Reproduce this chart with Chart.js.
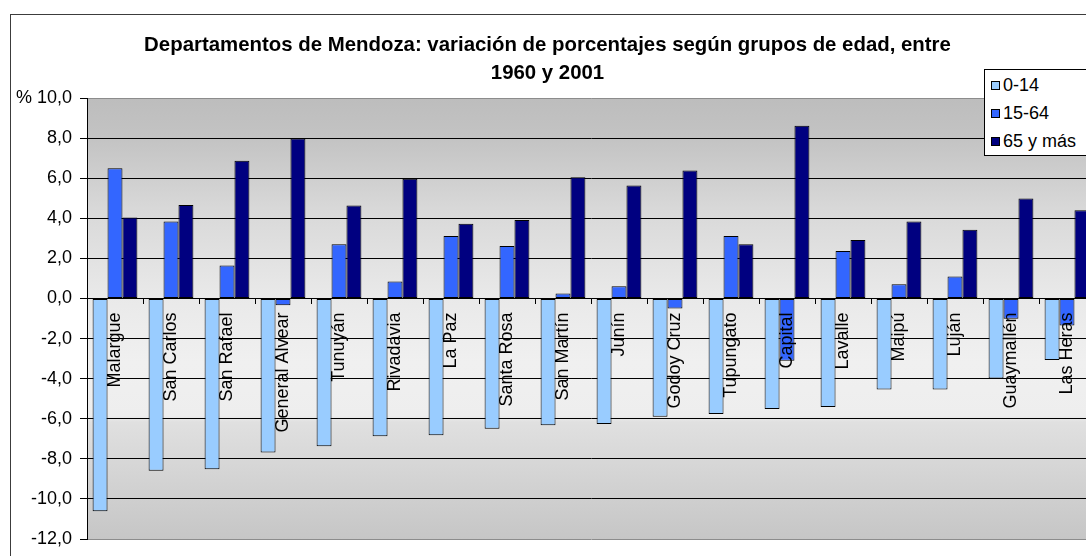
<!DOCTYPE html>
<html>
<head>
<meta charset="utf-8">
<title>Departamentos de Mendoza</title>
<script src="https://cdn.jsdelivr.net/npm/chart.js@4/dist/chart.umd.min.js"></script>
<style>
  html, body { margin: 0; padding: 0; overflow: hidden; background: #fff; }
  #wrap { position: relative; width: 1114px; height: 556px; }
  #frame { position: absolute; left: 10px; top: 14px; width: 1200px; height: 700px; border: 1px solid #3c3c3c; }
  #chart { position: absolute; left: 0; top: 0; }
  #legend {
    position: absolute; left: 984px; top: 69px; width: 130px; height: 84px;
    background: #fff; border: 1px solid #000; padding-top: 1px;
    font-family: 'Liberation Sans', Arial, sans-serif; font-size: 18px; color: #000;
  }
  #legend .item { height: 28px; line-height: 28px; white-space: nowrap; }
  #legend .box { display: inline-block; width: 7px; height: 7px; border: 1px solid #000; margin: 0 3px 0 6px; vertical-align: 1px; }
</style>
</head>
<body>
<div id="wrap">
  <div id="frame"></div>
  <canvas id="chart" width="1114" height="556"></canvas>
  <div id="legend"></div>
</div>
<script>
// valores (variación en puntos porcentuales)
const departamentos = ['Malargue', 'San Carlos', 'San Rafael', 'General Alvear', 'Tunuyán', 'Rivadavia',
  'La Paz', 'Santa Rosa', 'San Martín', 'Junín', 'Godoy Cruz', 'Tupungato', 'Capital', 'Lavalle',
  'Maipú', 'Luján', 'Guaymallén', 'Las Heras'];
const grupos = ['0-14', '15-64', '65 y más'];
const edad0a14 = [-10.62, -8.60, -8.52, -7.68, -7.37, -6.88, -6.82, -6.50, -6.33, -6.26, -5.90, -5.77, -5.51, -5.41, -4.54, -4.54, -3.99, -3.07];
const edad15a64 = [6.49, 3.84, 1.64, -0.34, 2.70, 0.84, 3.11, 2.62, 0.25, 0.61, -0.50, 3.11, -3.11, 2.37, 0.71, 1.10, -1.01, -1.35];
const edad65ymas = [4.04, 4.66, 6.87, 7.98, 4.64, 5.97, 3.73, 3.92, 6.05, 5.63, 6.38, 2.70, 8.62, 2.92, 3.84, 3.43, 4.99, 4.40];
const colores = ['#99ccff', '#3366ff', '#000080'];
const yMin = -12, yMax = 10, yPaso = 2;

const fuente = "'Liberation Sans', Arial, sans-serif";

// fondo degradado del área de trazado
const fondoPlot = {
  id: 'fondoPlot',
  beforeDraw(chart) {
    const { ctx, chartArea: a } = chart;
    const g = ctx.createLinearGradient(0, a.top, 0, a.bottom);
    g.addColorStop(0, '#bdbdbd');
    g.addColorStop(0.09, '#c3c3c3');
    g.addColorStop(0.25, '#d8d8d8');
    g.addColorStop(0.45, '#e9e9e9');
    g.addColorStop(0.6, '#f0f0f0');
    g.addColorStop(0.72, '#eeeeee');
    g.addColorStop(0.735, '#e0e0e0');
    g.addColorStop(1, '#c6c6c6');
    ctx.save();
    ctx.fillStyle = g;
    ctx.fillRect(a.left, a.top, a.right - a.left, a.bottom - a.top);
    ctx.restore();
  }
};

const series = [edad0a14, edad15a64, edad65ymas];

new Chart(document.getElementById('chart'), {
  type: 'bar',
  data: {
    labels: departamentos,
    datasets: grupos.map((g, i) => ({
      label: g,
      data: series[i],
      backgroundColor: colores[i],
      borderColor: '#000',
      borderWidth: 1,
      borderSkipped: false,
      categoryPercentage: 0.8,
      barPercentage: 1.0
    }))
  },
  options: {
    responsive: false,
    animation: false,
    layout: { padding: { left: 0, right: 19, top: 0, bottom: 10 } },
    plugins: {
      legend: { display: false },
      tooltip: { enabled: false },
      title: {
        display: true,
        text: ['Departamentos de Mendoza: variación de porcentajes según grupos de edad, entre', '1960 y 2001'],
        color: '#000',
        font: { family: fuente, size: 20.4, weight: 'bold', lineHeight: 28 / 20.4 },
        padding: { top: 31, bottom: 11 }
      }
    },
    scales: {
      x: {
        position: { y: 0 },
        offset: true,
        grid: { offset: true, drawOnChartArea: false, tickLength: 5, color: '#000' },
        border: { color: '#000', z: 1 },
        ticks: {
          z: 1,
          autoSkip: false, minRotation: 90, maxRotation: 90, padding: 9,
          color: '#000', font: { family: fuente, size: 18 }
        }
      },
      y: {
        min: yMin,
        max: yMax,
        ticks: {
          stepSize: yPaso, padding: 8, color: '#000',
          font: { family: fuente, size: 18, lineHeight: 1 },
          callback: v => (v === yMax ? '% ' : '') + v.toFixed(1).replace('.', ',')
        },
        grid: {
          color: c => (c.tick && (c.tick.value === yMax || c.tick.value === yMin)) ? '#8c8c8c' : '#000',
          tickColor: '#000',
          tickLength: 7
        },
        border: { color: '#000' },
        afterFit: s => { s.width = 87; }
      }
    }
  },
  plugins: [fondoPlot]
});

// leyenda
const leyenda = document.getElementById('legend');
grupos.forEach((g, i) => {
  const fila = document.createElement('div');
  fila.className = 'item';
  const caja = document.createElement('span');
  caja.className = 'box';
  caja.style.background = colores[i];
  fila.appendChild(caja);
  fila.appendChild(document.createTextNode(g));
  leyenda.appendChild(fila);
});
</script>
</body>
</html>
